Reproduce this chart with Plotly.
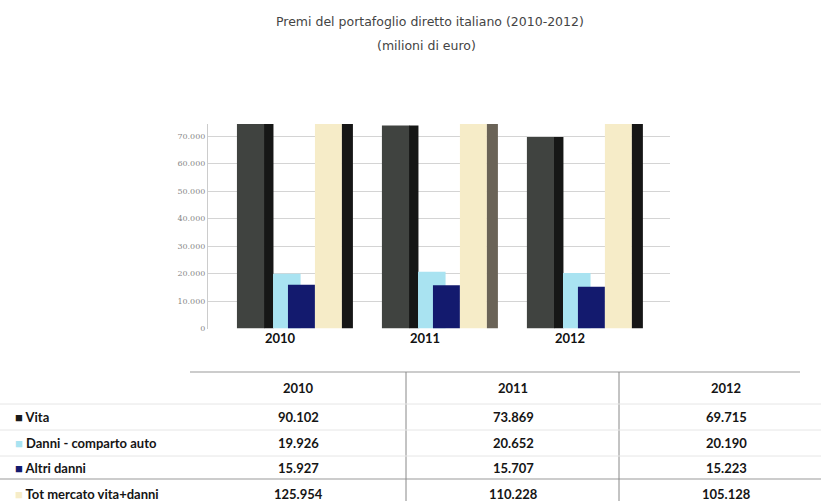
import plotly.graph_objects as go

years = ["2010", "2011", "2012"]
series_names = ["Vita", "Danni - comparto auto", "Altri danni", "Tot mercato vita+danni"]
vita = [90102, 73869, 69715]
danni_auto = [19926, 20652, 20190]
altri_danni = [15927, 15707, 15223]
tot_mercato = [125954, 110228, 105128]
y_ticks = [0, 10000, 20000, 30000, 40000, 50000, 60000, 70000]

W, H = 821, 501
def px(x):
    return x / W
def py(y):
    return 1 - y / H

xs = list(range(len(years)))
fig = go.Figure()

def bar(vals, color, offset, width, name):
    fig.add_trace(go.Bar(x=xs, y=vals, name=name, offset=offset, width=width,
                         marker=dict(color=color, line=dict(width=0)),
                         showlegend=False, hoverinfo="name+y"))

# Vita: face + darker side
bar(vita, "#404340", -0.297, 0.19, "Vita")
bar(vita, "#161716", -0.110, 0.065, "Vita")
# Danni auto (partly behind Altri danni)
bar(danni_auto, "#a9e3f1", -0.048, 0.19, "Danni - comparto auto")
bar(altri_danni, "#131a6e", 0.055, 0.186, "Altri danni")
# Tot: face + darker side
bar(tot_mercato, "#f6ecc8", 0.241, 0.186, "Tot mercato vita+danni")
bar(tot_mercato, ["#161616", "#6a6357", "#161616"], 0.427, 0.076, "Tot mercato vita+danni")

fig.update_layout(
    template="none",
    width=W, height=H, autosize=False,
    margin=dict(l=0, r=0, t=0, b=0, pad=0, autoexpand=False),
    paper_bgcolor="white", plot_bgcolor="white",
    barmode="overlay",
    separators=",.",
    font=dict(family="Lato, Open Sans, sans-serif", color="#222"),
    xaxis=dict(domain=[px(208), px(670)], range=[-0.4966, 2.690],
               tickvals=xs, ticktext=years,
               tickfont=dict(size=13, color="#111", family="Lato", weight="bold"),
               showgrid=False, showline=False, zeroline=False, ticks="",
               automargin=False),
    yaxis=dict(domain=[py(328.5), py(124)], range=[0, 74400],
               tickvals=y_ticks, tickformat=",d",
               tickfont=dict(size=8, color="#888", family="DejaVu Serif, serif"),
               showgrid=True, gridcolor="#d4d4d4", gridwidth=1,
               showline=True, linecolor="#cccccc", zeroline=False,
               ticks="", automargin=False),
)

def note(text, x, y, font, xanchor="center"):
    fig.add_annotation(text=text, x=px(x), y=py(y), xref="paper", yref="paper",
                       xanchor=xanchor, yanchor="middle", showarrow=False, font=font)

# Title
title_font = dict(size=12.5, color="#444", family="DejaVu Sans")
note("Premi del portafoglio diretto italiano (2010-2012)", 430, 21, title_font)
note("(milioni di euro)", 427, 46, title_font)

# Table
label_colors = ["#1a1a1a", "#a9e3f1", "#131a6e", "#f6ecc8"]
col_x = [298, 513, 726]
header_y = 388
row_y = [417, 443, 468, 494]
tfont = dict(size=13, color="#151515", family="Lato", weight="bold")
for yr, cx in zip(years, col_x):
    note(yr, cx, header_y, tfont)

def fmt(v):
    return f"{v:,}".replace(",", ".")

series = [vita, danni_auto, altri_danni, tot_mercato]
for name, vals, col, ry in zip(series_names, series, label_colors, row_y):
    note(f"<span style='color:{col}'>■</span> {name}", 13, ry, tfont, xanchor="left")
    for v, cx in zip(vals, col_x):
        note(fmt(v), cx, ry, tfont)

# table rules
rules = [
    (190, 372, 800, 372, "#999999"),
    (0, 479, 821, 479, "#999999"),
    (406, 372, 406, 501, "#888888"),
    (619, 372, 619, 501, "#888888"),
    (0, 404, 821, 404, "#e6e6e6"),
    (0, 430, 821, 430, "#e6e6e6"),
    (0, 456, 821, 456, "#e6e6e6"),
]
for x0, y0, x1, y1, c in rules:
    fig.add_shape(type="line", xref="paper", yref="paper",
                  x0=px(x0), y0=py(y0), x1=px(x1), y1=py(y1),
                  line=dict(color=c, width=1))

fig.write_html("out.html",
               config={"displayModeBar": False},
               post_script="document.body.style.margin='0';document.body.style.overflow='hidden';")
